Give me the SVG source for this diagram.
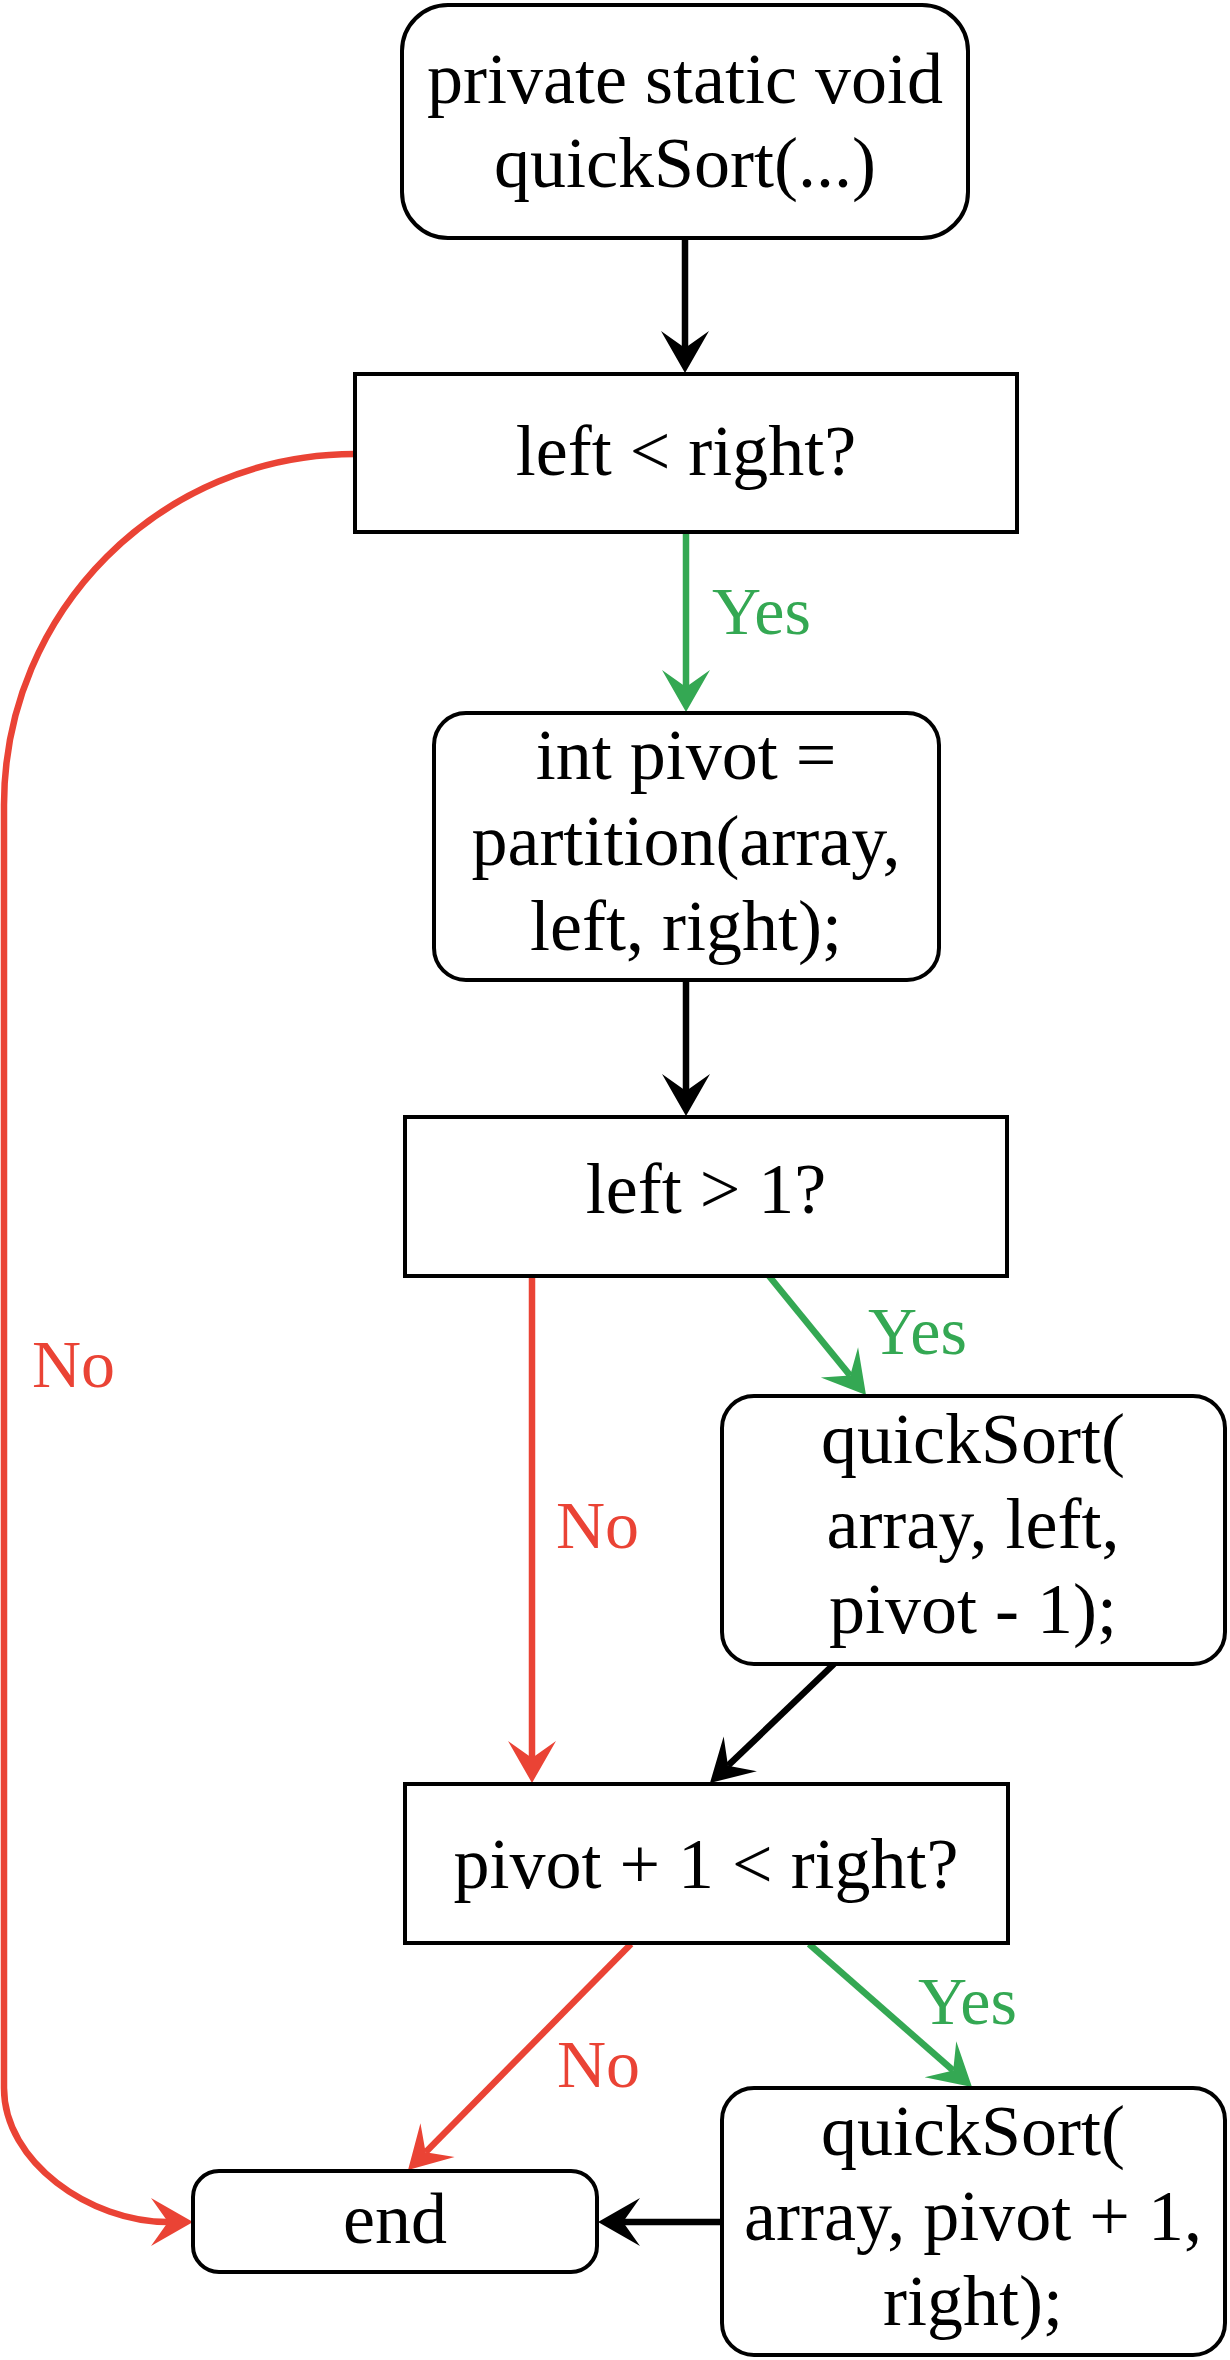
<svg xmlns="http://www.w3.org/2000/svg" width="1230" height="2360" viewBox="0 0 1230 2360">
<style>
.box{fill:#ffffff;stroke:#000000;stroke-width:4}
.t{font-family:"Liberation Serif","DejaVu Serif",serif;font-size:72px;fill:#000000;text-anchor:middle}
.lbl{font-family:"Liberation Serif","DejaVu Serif",serif;font-size:68px}
.red{fill:#EA4335}
.green{fill:#34A853}
.c{fill:none;stroke-width:6.5}
.ck{stroke:#000000}
.cr{stroke:#EA4335}
.cg{stroke:#34A853}
</style>
<defs>
<marker id="ak" markerUnits="userSpaceOnUse" viewBox="-20 -26 48 52" markerWidth="48" markerHeight="52" refX="0" refY="0" orient="auto"><path d="M25,0 L-17,-24 L0,0 L-17,24 Z" fill="#000000"/></marker>
<marker id="ar" markerUnits="userSpaceOnUse" viewBox="-20 -26 48 52" markerWidth="48" markerHeight="52" refX="0" refY="0" orient="auto"><path d="M25,0 L-17,-24 L0,0 L-17,24 Z" fill="#EA4335"/></marker>
<marker id="ag" markerUnits="userSpaceOnUse" viewBox="-20 -26 48 52" markerWidth="48" markerHeight="52" refX="0" refY="0" orient="auto"><path d="M25,0 L-17,-24 L0,0 L-17,24 Z" fill="#34A853"/></marker>
</defs>
<rect width="1230" height="2360" fill="#ffffff"/>
<g id="connectors">
<path class="c ck" d="M685,238 L685,348" marker-end="url(#ak)"/>
<path class="c cg" d="M686,532 L686,687" marker-end="url(#ag)"/>
<path class="c ck" d="M686,980 L686,1091" marker-end="url(#ak)"/>
<path class="c cg" d="M769,1276 L850.2,1375.6" marker-end="url(#ag)"/>
<path class="c cr" d="M532,1276 L532,1758" marker-end="url(#ar)"/>
<path class="c ck" d="M834,1664 L728,1765.7" marker-end="url(#ak)"/>
<path class="c cr" d="M631,1944 L425.6,2152.2" marker-end="url(#ar)"/>
<path class="c cg" d="M809,1944 L953.2,2070.5" marker-end="url(#ag)"/>
<path class="c ck" d="M722,2222 L623,2222" marker-end="url(#ak)"/>
<path class="c cr" d="M355,454 C161,454 4,611 4,805 L4,2088 C4,2162 90,2222 168,2222" marker-end="url(#ar)"/>
<text class="lbl green" x="712" y="634">Yes</text>
<text class="lbl green" x="868" y="1354">Yes</text>
<text class="lbl red" x="556" y="1548">No</text>
<text class="lbl red" x="32" y="1387">No</text>
<text class="lbl green" x="918" y="2024">Yes</text>
<text class="lbl red" x="557" y="2087">No</text>
</g>
<g id="start">
<rect class="box" x="402" y="5" width="566" height="233" rx="46" ry="46"/>
<text class="t" x="685" y="103">private static void</text>
<text class="t" x="685" y="187">quickSort(...)</text>
</g>
<g id="cond1">
<rect class="box" x="355" y="374" width="662" height="158"/>
<text class="t" x="686" y="475">left &lt; right?</text>
</g>
<g id="partition">
<rect class="box" x="434" y="713" width="505" height="267" rx="32" ry="32"/>
<text class="t" x="686" y="779">int pivot =</text>
<text class="t" x="686" y="865">partition(array,</text>
<text class="t" x="686" y="950">left, right);</text>
</g>
<g id="cond2">
<rect class="box" x="405" y="1117" width="602" height="159"/>
<text class="t" x="706" y="1213">left &gt; 1?</text>
</g>
<g id="recurse1">
<rect class="box" x="722" y="1396" width="503" height="268" rx="32" ry="32"/>
<text class="t" x="973" y="1463">quickSort(</text>
<text class="t" x="973" y="1548">array, left,</text>
<text class="t" x="973" y="1633">pivot - 1);</text>
</g>
<g id="cond3">
<rect class="box" x="405" y="1784" width="603" height="159"/>
<text class="t" x="706" y="1888">pivot + 1 &lt; right?</text>
</g>
<g id="recurse2">
<rect class="box" x="722" y="2088" width="503" height="267" rx="32" ry="32"/>
<text class="t" x="973" y="2155">quickSort(</text>
<text class="t" x="973" y="2240">array, pivot + 1,</text>
<text class="t" x="973" y="2325">right);</text>
</g>
<g id="end">
<rect class="box" x="193" y="2171" width="404" height="101" rx="26" ry="26"/>
<text class="t" x="395" y="2243">end</text>
</g>
</svg>
